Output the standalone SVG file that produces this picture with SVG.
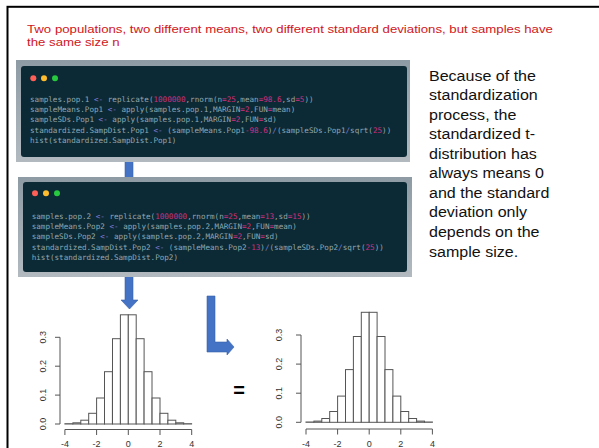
<svg xmlns="http://www.w3.org/2000/svg" width="599" height="448" viewBox="0 0 599 448">
<defs>
<linearGradient id="frameGrad" x1="0" y1="0" x2="0" y2="1">
<stop offset="0" stop-color="#8e9ba4"/>
<stop offset="1" stop-color="#b2bac0"/>
</linearGradient>
<style>
.title{font-family:"Liberation Sans",Arial,sans-serif;font-size:11.6px;fill:#d0161b}
.side{font-family:"Liberation Sans",Arial,sans-serif;font-size:15px;fill:#111}
.code{font-family:"DejaVu Sans Mono","Liberation Mono",monospace;font-size:7.6px;fill:#93a7b0;white-space:pre}
.op{fill:#8078cf}
.num{fill:#cf2f7f}
.frame{fill:url(#frameGrad)}
.term{fill:#0b2a35}
.blue{fill:#4472c4;stroke:#3b63aa;stroke-width:0.6}
.bar{fill:#fff;stroke:#555;stroke-width:1}
.axis{fill:none;stroke:#555;stroke-width:1}
.lab{font-family:"Liberation Sans",Arial,sans-serif;font-size:9px;fill:#333;text-anchor:middle}
</style>
</defs>
<rect width="599" height="448" fill="#fff"/>
<rect x="7.5" y="6.8" width="600" height="450" fill="none" stroke="#000" stroke-width="2"/>
<g id="title" transform="translate(27 0) scale(1.14 1)">
<text class="title" x="0" y="33">Two populations, two different means, two different standard deviations, but samples have</text>
<text class="title" x="0" y="46.3">the same size n</text>
</g>
<g id="connectors">
<rect class="blue" x="125" y="150" width="8" height="35"/>
<path class="blue" d="M125,270 H133 V300 H138 L129.5,309 L121,300 H125 Z"/>
<path class="blue" d="M207,296 H215 V342 H227 V339 L234,347 L227,355 V352 H207 Z"/>
</g>
<g id="code1">
<rect class="frame" x="16" y="60" width="394" height="102"/>
<rect class="term" x="21" y="66" width="386" height="91" rx="3"/>
<circle cx="33.3" cy="78.3" r="3" fill="#ff5f56"/>
<circle cx="44" cy="78.3" r="3" fill="#ffbd2e"/>
<circle cx="55" cy="78.3" r="3" fill="#27c93f"/>
<text class="code" x="30" y="101.8">samples.pop.1 <tspan class="op">&lt;-</tspan> replicate(<tspan class="num">1000000</tspan>,rnorm(n<tspan class="num">=25</tspan>,mean<tspan class="num">=98.6</tspan>,sd<tspan class="num">=5</tspan>))</text>
<text class="code" x="30" y="112.1">sampleMeans.Pop1 <tspan class="op">&lt;-</tspan> apply(samples.pop.1,MARGIN<tspan class="num">=2</tspan>,FUN<tspan class="num">=</tspan>mean)</text>
<text class="code" x="30" y="122.4">sampleSDs.Pop1 <tspan class="op">&lt;-</tspan> apply(samples.pop.1,MARGIN<tspan class="num">=2</tspan>,FUN<tspan class="num">=</tspan>sd)</text>
<text class="code" x="30" y="132.7">standardized.SampDist.Pop1 <tspan class="op">&lt;-</tspan> (sampleMeans.Pop1<tspan class="num">-98.6</tspan>)<tspan class="op">/</tspan>(sampleSDs.Pop1<tspan class="op">/</tspan>sqrt(<tspan class="num">25</tspan>))</text>
<text class="code" x="30" y="143">hist(standardized.SampDist.Pop1)</text>
</g>
<g id="code2">
<rect class="frame" x="18" y="177" width="394" height="100"/>
<rect class="term" x="23" y="182" width="384" height="90" rx="3"/>
<circle cx="35" cy="193.3" r="3" fill="#ff5f56"/>
<circle cx="46" cy="193.3" r="3" fill="#ffbd2e"/>
<circle cx="57" cy="193.3" r="3" fill="#27c93f"/>
<text class="code" x="31.7" y="219">samples.pop.2 <tspan class="op">&lt;-</tspan> replicate(<tspan class="num">1000000</tspan>,rnorm(n<tspan class="num">=25</tspan>,mean<tspan class="num">=13</tspan>,sd<tspan class="num">=15</tspan>))</text>
<text class="code" x="31.7" y="229.2">sampleMeans.Pop2 <tspan class="op">&lt;-</tspan> apply(samples.pop.2,MARGIN<tspan class="num">=2</tspan>,FUN<tspan class="num">=</tspan>mean)</text>
<text class="code" x="31.7" y="239.4">sampleSDs.Pop2 <tspan class="op">&lt;-</tspan> apply(samples.pop.2,MARGIN<tspan class="num">=2</tspan>,FUN<tspan class="num">=</tspan>sd)</text>
<text class="code" x="31.7" y="249.6">standardized.SampDist.Pop2 <tspan class="op">&lt;-</tspan> (sampleMeans.Pop2<tspan class="num">-13</tspan>)<tspan class="op">/</tspan>(sampleSDs.Pop2<tspan class="op">/</tspan>sqrt(<tspan class="num">25</tspan>))</text>
<text class="code" x="31.7" y="259.8">hist(standardized.SampDist.Pop2)</text>
</g>
<g id="explanation" transform="translate(429 0) scale(1.07 1)">
<text class="side" x="0" y="81">Because of the</text>
<text class="side" x="0" y="100.5">standardization</text>
<text class="side" x="0" y="120">process, the</text>
<text class="side" x="0" y="139.5">standardized t-</text>
<text class="side" x="0" y="159">distribution has</text>
<text class="side" x="0" y="178.5">always means 0</text>
<text class="side" x="0" y="198">and the standard</text>
<text class="side" x="0" y="217.5">deviation only</text>
<text class="side" x="0" y="237">depends on the</text>
<text class="side" x="0" y="257.5">sample size.</text>
</g>
<g id="hist1">
<rect class="bar" x="64.9" y="423.7" width="7.9" height="0.3"/>
<rect class="bar" x="72.9" y="422.8" width="7.9" height="1.2"/>
<rect class="bar" x="80.8" y="420.2" width="7.9" height="3.8"/>
<rect class="bar" x="88.7" y="413.3" width="7.9" height="10.7"/>
<rect class="bar" x="96.6" y="398" width="7.9" height="26"/>
<rect class="bar" x="104.5" y="371.7" width="7.9" height="52.3"/>
<rect class="bar" x="112.5" y="338.7" width="7.9" height="85.3"/>
<rect class="bar" x="120.4" y="314.8" width="7.9" height="109.2"/>
<rect class="bar" x="128.3" y="314.8" width="7.9" height="109.2"/>
<rect class="bar" x="136.2" y="338.7" width="7.9" height="85.3"/>
<rect class="bar" x="144.1" y="371.7" width="7.9" height="52.3"/>
<rect class="bar" x="152.1" y="398" width="7.9" height="26"/>
<rect class="bar" x="160" y="413.3" width="7.9" height="10.7"/>
<rect class="bar" x="167.9" y="420.2" width="7.9" height="3.8"/>
<rect class="bar" x="175.8" y="422.8" width="7.9" height="1.2"/>
<rect class="bar" x="183.7" y="423.7" width="7.9" height="0.3"/>
<path class="axis" d="M60,424 V337.3 M55,424 H60 M55,395.1 H60 M55,366.2 H60 M55,337.3 H60"/>
<path class="axis" d="M64.9,429.5 H191.7 M64.9,429.5 V435 M96.6,429.5 V435 M128.3,429.5 V435 M160,429.5 V435 M191.7,429.5 V435"/>
<text class="lab" transform="translate(45.7,424) rotate(-90)">0.0</text>
<text class="lab" transform="translate(45.7,395.1) rotate(-90)">0.1</text>
<text class="lab" transform="translate(45.7,366.2) rotate(-90)">0.2</text>
<text class="lab" transform="translate(45.7,337.3) rotate(-90)">0.3</text>
<text class="lab" x="64.9" y="446.5">-4</text>
<text class="lab" x="96.6" y="446.5">-2</text>
<text class="lab" x="128.3" y="446.5">0</text>
<text class="lab" x="160" y="446.5">2</text>
<text class="lab" x="191.7" y="446.5">4</text>
</g>
<g id="equals">
<text x="239" y="396.5" font-family="Liberation Sans,Arial,sans-serif" font-size="20" font-weight="bold" text-anchor="middle" fill="#000">=</text>
</g>
<g id="hist2">
<rect class="bar" x="306" y="422" width="7.9" height="0.3"/>
<rect class="bar" x="313.9" y="421.1" width="7.9" height="1.2"/>
<rect class="bar" x="321.8" y="418.5" width="7.9" height="3.8"/>
<rect class="bar" x="329.7" y="411.5" width="7.9" height="10.8"/>
<rect class="bar" x="337.6" y="396.1" width="7.9" height="26.2"/>
<rect class="bar" x="345.5" y="369.6" width="7.9" height="52.7"/>
<rect class="bar" x="353.4" y="336.5" width="7.9" height="85.8"/>
<rect class="bar" x="361.3" y="312.3" width="7.9" height="110"/>
<rect class="bar" x="369.2" y="312.3" width="7.9" height="110"/>
<rect class="bar" x="377.1" y="336.5" width="7.9" height="85.8"/>
<rect class="bar" x="385" y="369.6" width="7.9" height="52.7"/>
<rect class="bar" x="392.9" y="396.1" width="7.9" height="26.2"/>
<rect class="bar" x="400.8" y="411.5" width="7.9" height="10.8"/>
<rect class="bar" x="408.7" y="418.5" width="7.9" height="3.8"/>
<rect class="bar" x="416.6" y="421.1" width="7.9" height="1.2"/>
<rect class="bar" x="424.5" y="422" width="7.9" height="0.3"/>
<path class="axis" d="M301,422.3 V335 M296,422.3 H301 M296,393.2 H301 M296,364.1 H301 M296,335 H301"/>
<path class="axis" d="M306,429 H432.4 M306,429 V434.5 M337.6,429 V434.5 M369.2,429 V434.5 M400.8,429 V434.5 M432.4,429 V434.5"/>
<text class="lab" transform="translate(281.7,422.3) rotate(-90)">0.0</text>
<text class="lab" transform="translate(281.7,393.2) rotate(-90)">0.1</text>
<text class="lab" transform="translate(281.7,364.1) rotate(-90)">0.2</text>
<text class="lab" transform="translate(281.7,335) rotate(-90)">0.3</text>
<text class="lab" x="306" y="446.5">-4</text>
<text class="lab" x="337.6" y="446.5">-2</text>
<text class="lab" x="369.2" y="446.5">0</text>
<text class="lab" x="400.8" y="446.5">2</text>
<text class="lab" x="432.4" y="446.5">4</text>
</g>
</svg>
